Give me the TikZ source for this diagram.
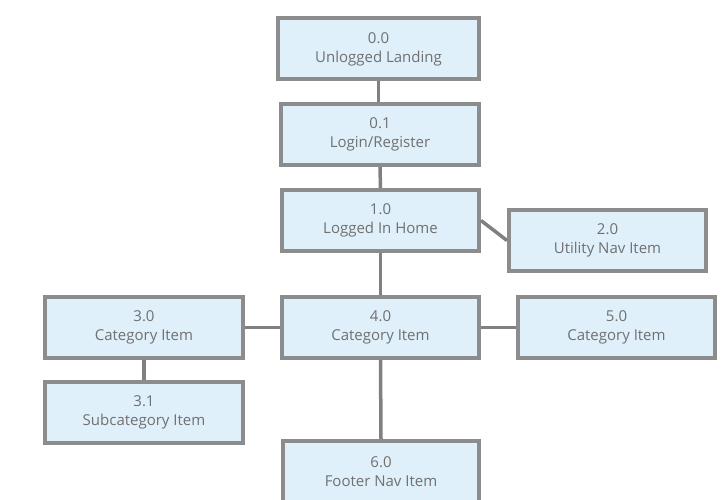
\documentclass[tikz,border=0pt]{standalone}
\usepackage{fontspec}
\setmainfont{Open Sans}
\definecolor{boxfill}{HTML}{DFF0FB}
\definecolor{boxline}{HTML}{8C8C8C}
\definecolor{txt}{HTML}{707070}
\definecolor{conn}{HTML}{808080}
\tikzset{
  pagebox/.style={draw=boxline, line width=4pt, fill=boxfill, minimum width=197pt, minimum height=61pt,
    inner sep=0pt, align=center, text=txt, font=\fontsize{15pt}{19pt}\selectfont},
  link/.style={draw=conn, line width=3.5pt},
  thinlink/.style={draw=conn, line width=2.5pt}
}
\begin{document}
\begin{tikzpicture}[x=1pt,y=-1pt]
\useasboundingbox (0,0) rectangle (723,500);
\node[pagebox, minimum width=201pt] (n00) at (378.5,49) {0.0\\Unlogged Landing};
\node[pagebox, minimum width=198pt] (n01) at (380,134.5) {0.1\\Login/Register};
\node[pagebox] (n10) at (380.5,220.5) {1.0\\Logged In Home};
\node[pagebox] (n20) at (607.5,240.5) {2.0\\Utility Nav Item};
\node[pagebox, minimum width=198pt] (n30) at (144,327.5) {3.0\\Category Item};
\node[pagebox] (n40) at (380.5,327.5) {4.0\\Category Item};
\node[pagebox] (n50) at (616.5,327.5) {5.0\\Category Item};
\node[pagebox, minimum width=198pt] (n31) at (144,412.5) {3.1\\Subcategory Item};
\node[pagebox, minimum width=196pt] (n60) at (381,471.5) {6.0\\Footer Nav Item};
\draw[link] (n00.south) -- (n00.south |- n01.north);
\draw[link] (n01.south) -- (n10.north);
\draw[link] (n10.south) -- (n40.north);
\draw[link] (n40.south) -- (n60.north);
\draw[link] (n10.east) -- (n20.west);
\draw[thinlink] (n30.east) -- (n40.west);
\draw[thinlink] (n40.east) -- (n50.west);
\draw[link] (n30.south) -- (n31.north);
\end{tikzpicture}
\end{document}
